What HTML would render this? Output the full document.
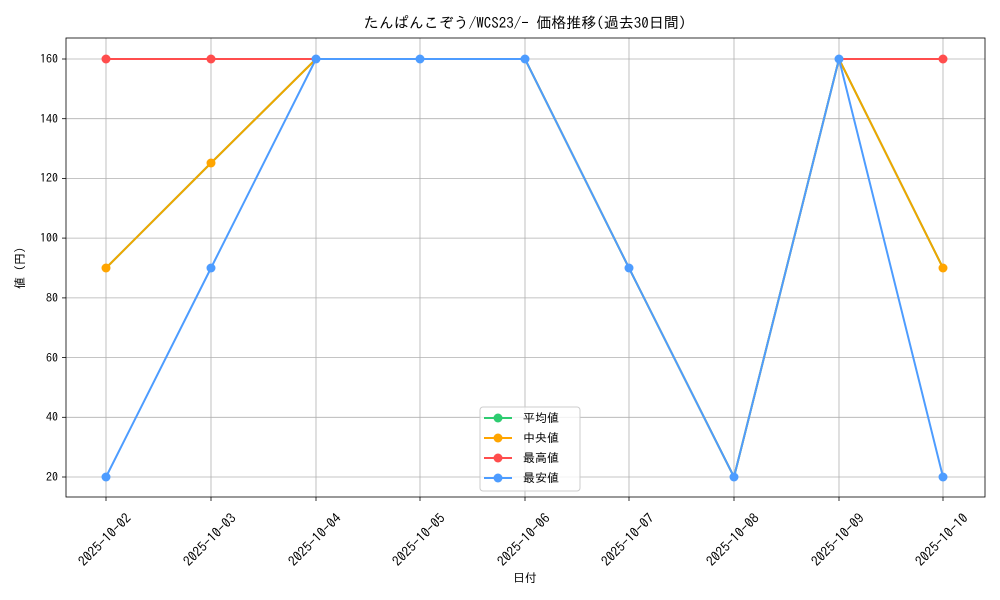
<!DOCTYPE html>
<html><head><meta charset="utf-8"><style>body{margin:0;background:#fff}svg{display:block}text{font-family:"IPAGothic","Liberation Sans","Noto Sans CJK JP",sans-serif;fill:#000}</style></head><body>
<svg width="1000" height="600" viewBox="0 0 1000 600">
<rect width="1000" height="600" fill="#fff"/>
<text x="525" y="28" font-size="15" text-anchor="middle">たんぱんこぞう/WCS23/- 価格推移(過去30日間)</text>
<g stroke="#b0b0b0" stroke-width="0.8">
<line x1="106" y1="38" x2="106" y2="497"/><line x1="211" y1="38" x2="211" y2="497"/><line x1="316" y1="38" x2="316" y2="497"/><line x1="420" y1="38" x2="420" y2="497"/><line x1="525" y1="38" x2="525" y2="497"/><line x1="629" y1="38" x2="629" y2="497"/><line x1="734" y1="38" x2="734" y2="497"/><line x1="839" y1="38" x2="839" y2="497"/><line x1="943" y1="38" x2="943" y2="497"/>
<line x1="66" y1="477" x2="985" y2="477"/><line x1="66" y1="417.3" x2="985" y2="417.3"/><line x1="66" y1="357.6" x2="985" y2="357.6"/><line x1="66" y1="297.9" x2="985" y2="297.9"/><line x1="66" y1="238.1" x2="985" y2="238.1"/><line x1="66" y1="178.4" x2="985" y2="178.4"/><line x1="66" y1="118.7" x2="985" y2="118.7"/><line x1="66" y1="59" x2="985" y2="59"/>
</g>
<rect x="66" y="38" width="919" height="459" fill="none" stroke="#000" stroke-width="0.8"/>
<g stroke="#000" stroke-width="0.8">
<line x1="62" y1="477" x2="66" y2="477"/><line x1="62" y1="417.3" x2="66" y2="417.3"/><line x1="62" y1="357.6" x2="66" y2="357.6"/><line x1="62" y1="297.9" x2="66" y2="297.9"/><line x1="62" y1="238.1" x2="66" y2="238.1"/><line x1="62" y1="178.4" x2="66" y2="178.4"/><line x1="62" y1="118.7" x2="66" y2="118.7"/><line x1="62" y1="59" x2="66" y2="59"/>
<line x1="106" y1="497" x2="106" y2="501"/><line x1="211" y1="497" x2="211" y2="501"/><line x1="316" y1="497" x2="316" y2="501"/><line x1="420" y1="497" x2="420" y2="501"/><line x1="525" y1="497" x2="525" y2="501"/><line x1="629" y1="497" x2="629" y2="501"/><line x1="734" y1="497" x2="734" y2="501"/><line x1="839" y1="497" x2="839" y2="501"/><line x1="943" y1="497" x2="943" y2="501"/>
</g>
<g font-size="12" text-anchor="end">
<text x="58" y="481">20</text><text x="58" y="421">40</text><text x="58" y="362">60</text><text x="58" y="302">80</text><text x="58" y="242">100</text><text x="58" y="182">120</text><text x="58" y="123">140</text><text x="58" y="63">160</text>
</g>
<g font-size="13.5" text-anchor="middle">
<text transform="translate(108,543) rotate(-45)">2025-10-02</text>
<text transform="translate(213,543) rotate(-45)">2025-10-03</text>
<text transform="translate(318,543) rotate(-45)">2025-10-04</text>
<text transform="translate(422,543) rotate(-45)">2025-10-05</text>
<text transform="translate(527,543) rotate(-45)">2025-10-06</text>
<text transform="translate(631,543) rotate(-45)">2025-10-07</text>
<text transform="translate(736,543) rotate(-45)">2025-10-08</text>
<text transform="translate(841,543) rotate(-45)">2025-10-09</text>
<text transform="translate(945,543) rotate(-45)">2025-10-10</text>
</g>
<text x="525" y="582" font-size="12" text-anchor="middle">日付</text>
<text transform="translate(24,268) rotate(-90)" font-size="12" text-anchor="middle">値 (円)</text>
<g fill="none" stroke-width="2">
<polyline stroke="#2ecc71" points="106,268 211,163 316,59 420,59 525,59 629,268 734,477 839,59 943,268"/>
<polyline stroke="#ff4d4d" points="106,59 211,59 316,59 420,59 525,59"/>
<polyline stroke="#ff4d4d" points="839,59 943,59"/>
<polyline stroke="#f0a500" points="106,268 211,163 316,59 420,59 525,59 629,268 734,477 839,59 943,268"/>
<polyline stroke="#4d9cff" points="106,477 211,268 316,59 420,59 525,59 629,268 734,477 839,59 943,477"/>
</g>
<g fill="#ff4d4d"><circle cx="106" cy="59" r="4.5"/><circle cx="211" cy="59" r="4.5"/><circle cx="943" cy="59" r="4.5"/></g>
<g fill="#ffa500"><circle cx="106" cy="268" r="4.5"/><circle cx="211" cy="163" r="4.5"/><circle cx="943" cy="268" r="4.5"/></g>
<g fill="#4d9cff"><circle cx="106" cy="477" r="4.5"/><circle cx="211" cy="268" r="4.5"/><circle cx="316" cy="59" r="4.5"/><circle cx="420" cy="59" r="4.5"/><circle cx="525" cy="59" r="4.5"/><circle cx="629" cy="268" r="4.5"/><circle cx="734" cy="477" r="4.5"/><circle cx="839" cy="59" r="4.5"/><circle cx="943" cy="477" r="4.5"/></g>
<rect x="480" y="407" width="100" height="84" rx="3" fill="#fff" fill-opacity="0.8" stroke="#ccc"/>
<g stroke-width="2">
<line x1="484" y1="418" x2="512" y2="418" stroke="#2ecc71"/><circle cx="498" cy="418" r="4.5" fill="#2ecc71"/>
<line x1="484" y1="438" x2="512" y2="438" stroke="#ffa500"/><circle cx="498" cy="438" r="4.5" fill="#ffa500"/>
<line x1="484" y1="458" x2="512" y2="458" stroke="#ff4d4d"/><circle cx="498" cy="458" r="4.5" fill="#ff4d4d"/>
<line x1="484" y1="478" x2="512" y2="478" stroke="#4d9cff"/><circle cx="498" cy="478" r="4.5" fill="#4d9cff"/>
</g>
<g font-size="12"><text x="523" y="422">平均値</text><text x="523" y="442">中央値</text><text x="523" y="462">最高値</text><text x="523" y="482">最安値</text></g>
</svg>
</body></html>
